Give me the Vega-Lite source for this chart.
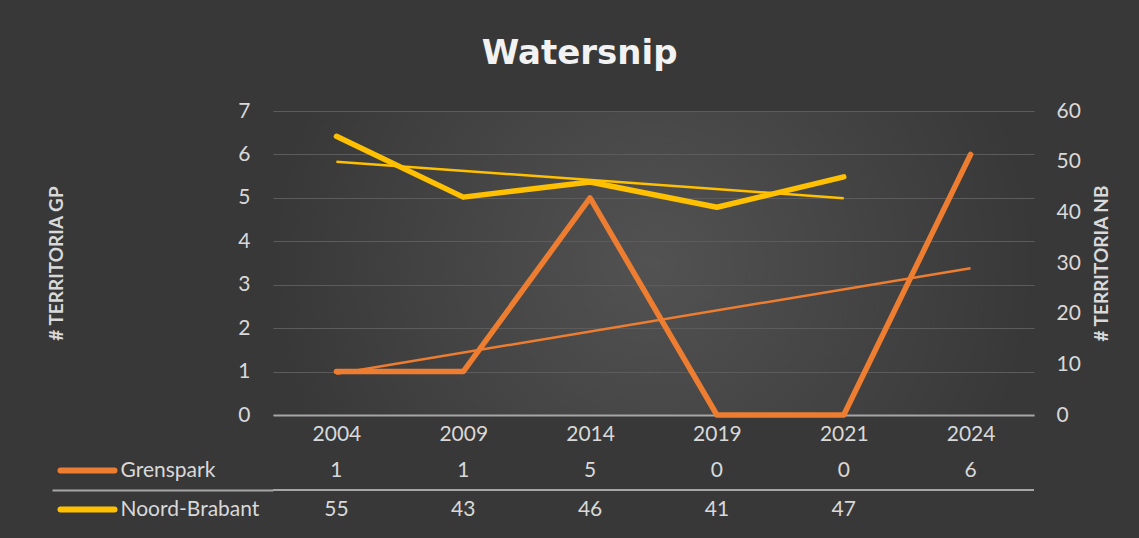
{
  "$schema": "https://vega.github.io/schema/vega-lite/v6.json",
  "background": "#383838",
  "padding": {"left": 47, "top": 37, "right": 30, "bottom": 12},
  "config": {"font": "Lato", "view": {"stroke": null}},
  "title": {"text": "Watersnip", "anchor": "middle", "font": "DejaVu Sans", "fontSize": 34, "fontWeight": "bold", "color": "#f2f2f2", "offset": 29},
  "datasets": {
    "counts": [
      {"year": "2004", "series": "Grenspark", "value": 1},
      {"year": "2009", "series": "Grenspark", "value": 1},
      {"year": "2014", "series": "Grenspark", "value": 5},
      {"year": "2019", "series": "Grenspark", "value": 0},
      {"year": "2021", "series": "Grenspark", "value": 0},
      {"year": "2024", "series": "Grenspark", "value": 6},
      {"year": "2004", "series": "Noord-Brabant", "value": 55},
      {"year": "2009", "series": "Noord-Brabant", "value": 43},
      {"year": "2014", "series": "Noord-Brabant", "value": 46},
      {"year": "2019", "series": "Noord-Brabant", "value": 41},
      {"year": "2021", "series": "Noord-Brabant", "value": 47}
    ],
    "trend": [
      {"year": "2004", "series": "Grenspark", "value": 0.95},
      {"year": "2024", "series": "Grenspark", "value": 3.38},
      {"year": "2004", "series": "Noord-Brabant", "value": 50},
      {"year": "2021", "series": "Noord-Brabant", "value": 42.8}
    ]
  },
  "spacing": 7,
  "vconcat": [
    {
      "width": 761,
      "height": 304,
      "view": {"stroke": null, "fill": {"gradient": "radial", "x1": 0.5, "y1": 0.5, "r1": 0, "x2": 0.5, "y2": 0.5, "r2": 0.5, "stops": [{"offset": 0, "color": "#525252"}, {"offset": 1, "color": "#383838"}]}},
      "data": {"name": "counts"},
      "encoding": {
        "x": {"field": "year", "type": "ordinal", "scale": {"type": "point", "padding": 0.5, "domain": ["2004", "2009", "2014", "2019", "2021", "2024"]},
          "axis": {"title": null, "labelAngle": 0, "ticks": false, "domain": true, "domainColor": "#a6a6a6", "domainWidth": 2, "labelPadding": 8, "labelFontSize": 21, "labelColor": "#d9d9d9", "grid": false}}
      },
      "layer": [
        {
          "encoding": {"y": {"field": "value", "type": "quantitative", "scale": {"domain": [0, 7], "nice": false},
            "axis": {"orient": "left", "title": "# TERRITORIA GP", "values": [0, 1, 2, 3, 4, 5, 6, 7], "grid": true, "gridColor": "#5c5c5c", "gridWidth": 1, "ticks": false, "domain": false, "labelPadding": 23, "labelFontSize": 21, "labelColor": "#d9d9d9", "titleFontSize": 19, "titleFontWeight": "bold", "titleColor": "#d9d9d9", "titlePadding": 171}}},
          "layer": [
            {"data": {"name": "trend"}, "transform": [{"filter": "datum.series === 'Grenspark'"}], "mark": {"type": "line", "color": "#ED7D31", "strokeWidth": 2.5}, "encoding": {}},
            {"transform": [{"filter": "datum.series === 'Grenspark'"}], "mark": {"type": "line", "color": "#ED7D31", "strokeWidth": 5.5, "strokeCap": "round", "strokeJoin": "round"}, "encoding": {}}
          ]
        },
        {
          "encoding": {"y": {"field": "value", "type": "quantitative", "scale": {"domain": [0, 60], "nice": false},
            "axis": {"orient": "right", "title": "# TERRITORIA NB", "values": [0, 10, 20, 30, 40, 50, 60], "grid": false, "ticks": false, "domain": false, "labelPadding": 22, "labelFontSize": 21, "labelColor": "#d9d9d9", "titleFontSize": 19, "titleFontWeight": "bold", "titleColor": "#d9d9d9", "titleAngle": 270, "titlePadding": 31}}},
          "layer": [
            {"data": {"name": "trend"}, "transform": [{"filter": "datum.series === 'Noord-Brabant'"}], "mark": {"type": "line", "color": "#FFC000", "strokeWidth": 2.5}, "encoding": {}},
            {"transform": [{"filter": "datum.series === 'Noord-Brabant'"}], "mark": {"type": "line", "color": "#FFC000", "strokeWidth": 5.5, "strokeCap": "round", "strokeJoin": "round"}, "encoding": {}}
          ]
        }
      ],
      "resolve": {"scale": {"y": "independent"}}
    },
    {
      "width": 761,
      "height": 78,
      "data": {"name": "counts"},
      "layer": [
        {"mark": {"type": "text", "fontSize": 21, "color": "#d9d9d9"},
          "encoding": {
            "x": {"field": "year", "type": "ordinal", "scale": {"type": "point", "padding": 0.5, "domain": ["2004", "2009", "2014", "2019", "2021", "2024"]}, "axis": null},
            "y": {"field": "series", "type": "nominal", "scale": {"domain": ["Grenspark", "Noord-Brabant"], "paddingInner": 0, "paddingOuter": 0},
              "axis": {"orient": "left", "title": null, "domain": false, "grid": false, "offset": 159, "ticks": true, "tickSize": 54, "tickWidth": 6, "tickCap": "round", "tickBand": "center",
                "tickColor": {"condition": {"test": "datum.value === 'Grenspark'", "value": "#ED7D31"}, "value": "#FFC000"},
                "labelAlign": "left", "labelPadding": -60, "labelFontSize": 21, "labelColor": "#d9d9d9", "labelBaseline": "middle"}},
            "text": {"field": "value", "type": "quantitative"}
          }},
        {"mark": {"type": "rule", "color": "#a6a6a6", "strokeWidth": 2},
          "encoding": {"y": {"datum": "Grenspark", "type": "nominal", "bandPosition": 1,
            "axis": {"orient": "left", "title": null, "values": ["Grenspark"], "labels": false, "domain": false, "grid": false, "ticks": true, "tickSize": 221, "tickWidth": 2, "tickColor": "#a6a6a6", "tickOffset": 19.5}}}}
      ],
      "resolve": {"axis": {"y": "independent"}}
    }
  ]
}
